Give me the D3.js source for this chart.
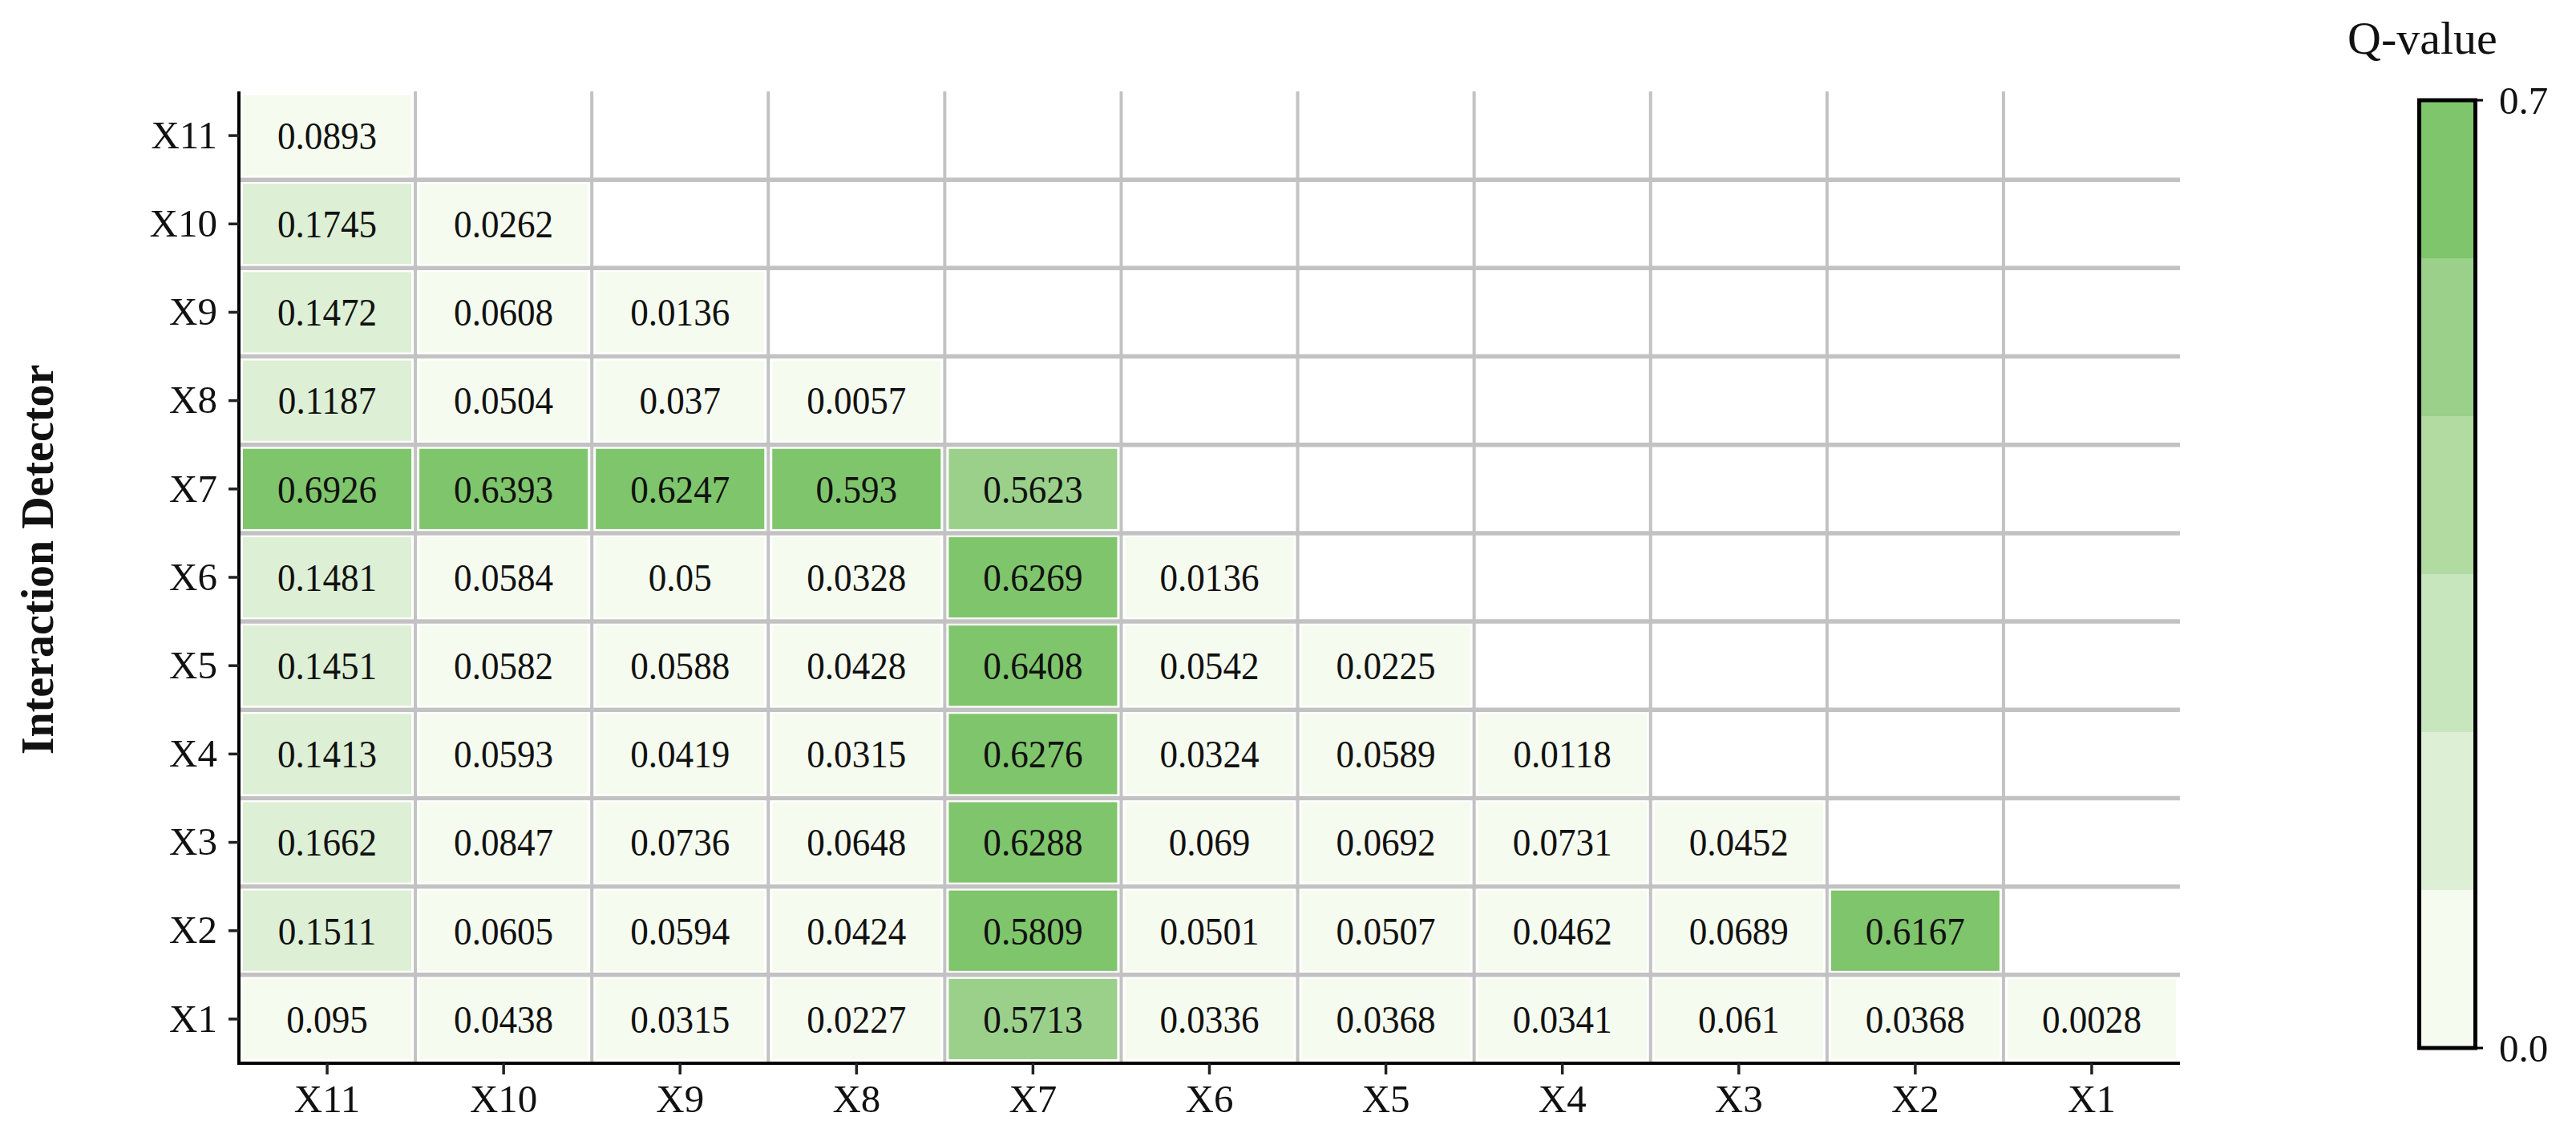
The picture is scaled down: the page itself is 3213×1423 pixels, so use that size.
<!DOCTYPE html>
<html>
<head>
<meta charset="utf-8">
<script src="https://cdn.jsdelivr.net/npm/d3@7"></script>
<style>
  body { margin: 0; background: #fff; }
  text { font-family: "Liberation Serif", "Times New Roman", serif; fill: #111; }
</style>
</head>
<body>
<svg id="chart" width="3213" height="1423"></svg>
<script>
const factors = ['X11', 'X10', 'X9', 'X8', 'X7', 'X6', 'X5', 'X4', 'X3', 'X2', 'X1'];

// one list per row, values read from columns X11 -> X1 (lower triangle)
const rowX11 = [0.0893];
const rowX10 = [0.1745, 0.0262];
const rowX9 = [0.1472, 0.0608, 0.0136];
const rowX8 = [0.1187, 0.0504, 0.037, 0.0057];
const rowX7 = [0.6926, 0.6393, 0.6247, 0.593, 0.5623];
const rowX6 = [0.1481, 0.0584, 0.05, 0.0328, 0.6269, 0.0136];
const rowX5 = [0.1451, 0.0582, 0.0588, 0.0428, 0.6408, 0.0542, 0.0225];
const rowX4 = [0.1413, 0.0593, 0.0419, 0.0315, 0.6276, 0.0324, 0.0589, 0.0118];
const rowX3 = [0.1662, 0.0847, 0.0736, 0.0648, 0.6288, 0.069, 0.0692, 0.0731, 0.0452];
const rowX2 = [0.1511, 0.0605, 0.0594, 0.0424, 0.5809, 0.0501, 0.0507, 0.0462, 0.0689, 0.6167];
const rowX1 = [0.095, 0.0438, 0.0315, 0.0227, 0.5713, 0.0336, 0.0368, 0.0341, 0.061, 0.0368, 0.0028];

const rows = [rowX11, rowX10, rowX9, rowX8, rowX7, rowX6, rowX5, rowX4, rowX3, rowX2, rowX1];
const legendTicks = [0, 0.7];

var greens = ['#f6fbef', '#ddefd5', '#c8e6bd', '#b2dba2', '#9ad08a', '#7fc56b'];

var cells = [];
rows.forEach((vals, r) => {
  vals.forEach((v, c) => {
    cells.push({ row: factors[r], col: factors[c], value: v });
  });
});

const svg = d3.select('#chart');
const L = 298, R = 2719, T = 114, B = 1326;

var x = d3.scaleBand().domain(factors).range([L, R]);
var y = d3.scaleBand().domain(factors).range([T, B]);
var color = d3.scaleQuantize()
  .domain(d3.extent(cells, d => d.value))
  .range(greens);

// grid lines at the inner cell borders
let grid = svg.append('g').attr('stroke', '#c2c2c2');
grid.selectAll('.vline').data(factors.slice(1)).enter().append('line')
  .attr('x1', d => x(d)).attr('x2', d => x(d))
  .attr('y1', T).attr('y2', B)
  .attr('stroke-width', 4);
grid.selectAll('.hline').data(factors.slice(1)).enter().append('line')
  .attr('x1', L).attr('x2', R)
  .attr('y1', d => y(d)).attr('y2', d => y(d))
  .attr('stroke-width', 5.5);

let tiles = svg.append('g').selectAll('g').data(cells).enter().append('g');
tiles.append('rect')
  .attr('x', d => x(d.col) + 4)
  .attr('y', d => y(d.row) + 4)
  .attr('width', x.bandwidth() - 8)
  .attr('height', y.bandwidth() - 8)
  .attr('fill', d => color(d.value))
  .attr('stroke', '#fff')
  .attr('stroke-width', 2);
tiles.append('text')
  .attr('transform', d => `translate(${x(d.col) + x.bandwidth() / 2},${y(d.row) + y.bandwidth() / 2}) scale(0.94,1)`)
  .attr('text-anchor', 'middle')
  .attr('dy', '0.35em')
  .style('font-size', '48px')
  .text(d => String(d.value));

// axes
var xAxis = svg.append('g').attr('transform', `translate(0,${B})`)
  .call(d3.axisBottom(x).tickSize(14).tickPadding(12));
var yAxis = svg.append('g').attr('transform', `translate(${L},0)`)
  .call(d3.axisLeft(y).tickSize(13).tickPadding(14));
[xAxis, yAxis].forEach(a => {
  a.select('.domain').attr('stroke', '#000').attr('stroke-width', 4);
  a.selectAll('.tick line').attr('stroke', '#222').attr('stroke-width', 3.5);
  a.selectAll('.tick text')
    .style('font-family', '"Liberation Serif", "Times New Roman", serif')
    .style('font-size', '49px').attr('fill', '#111');
});
xAxis.select('.domain').attr('d', `M${L - 2},0H${R}`);
yAxis.select('.domain').attr('d', `M0,${T}V${B + 2}`);

svg.append('text')
  .attr('transform', `translate(66,698) rotate(-90)`)
  .attr('text-anchor', 'middle')
  .style('font-size', '56px')
  .style('font-weight', 'bold')
  .text('Interaction Detector');

// legend
var lg = svg.append('g');
var ly = d3.scaleLinear().domain([0, 0.7]).range([1307, 125]);
var step = 0.7 / greens.length;
lg.selectAll('rect.band').data(greens).enter().append('rect')
  .attr('class', 'band')
  .attr('x', 3017)
  .attr('y', (d, i) => ly((i + 1) * step))
  .attr('width', 71)
  .attr('height', (d, i) => ly(i * step) - ly((i + 1) * step))
  .attr('fill', d => d);
lg.append('rect')
  .attr('x', 3017.5).attr('y', ly(0.7))
  .attr('width', 70).attr('height', ly(0) - ly(0.7))
  .attr('fill', 'none').attr('stroke', '#000').attr('stroke-width', 5);
lg.selectAll('line.tk').data(legendTicks).enter().append('line')
  .attr('x1', 3088).attr('x2', 3097)
  .attr('y1', d => ly(d)).attr('y2', d => ly(d))
  .attr('stroke', '#000').attr('stroke-width', 3);
lg.selectAll('text.tk').data(legendTicks).enter().append('text')
  .attr('x', 3117)
  .attr('y', d => ly(d))
  .attr('dy', '0.35em')
  .style('font-size', '49px')
  .text(d => d.toFixed(1));
lg.append('text')
  .attr('x', 2928).attr('y', 67)
  .style('font-size', '58px')
  .text('Q-value');
</script>
</body>
</html>
